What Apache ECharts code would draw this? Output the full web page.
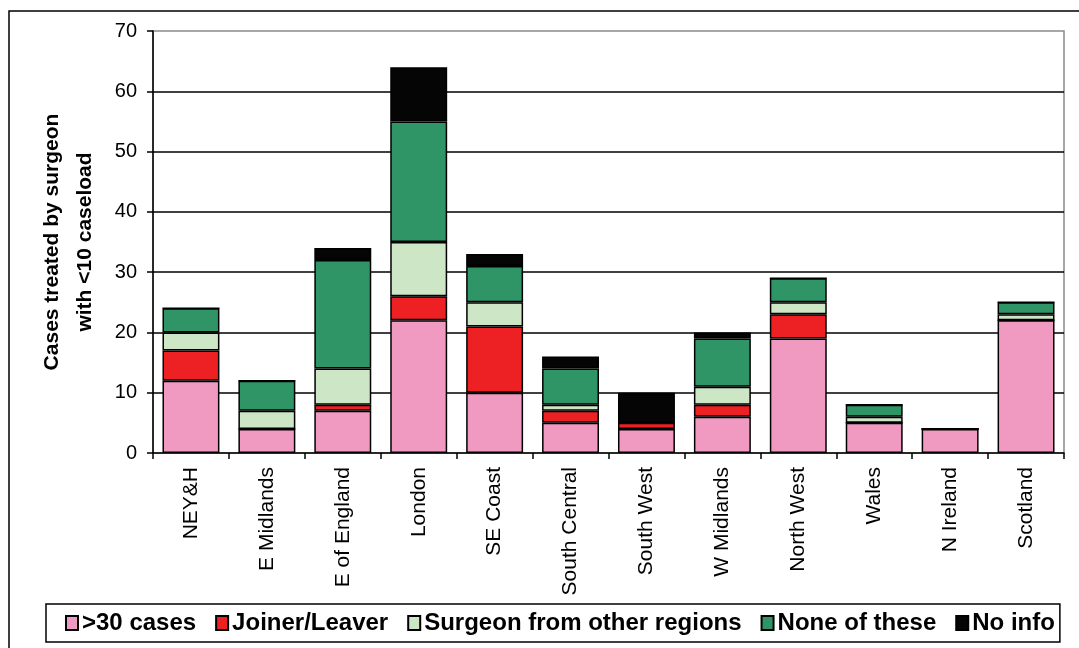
<!DOCTYPE html>
<html>
<head>
<meta charset="utf-8">
<script src="https://cdn.jsdelivr.net/npm/echarts@6/dist/echarts.min.js"></script>
<style>
  html, body { margin: 0; padding: 0; background: #fff; }
  #chart { width: 1079px; height: 648px; }
</style>
</head>
<body>
<div id="chart"></div>
<script>
// Regions (x axis)
const regions = ['NEY&H', 'E Midlands', 'E of England', 'London', 'SE Coast', 'South Central',
  'South West', 'W Midlands', 'North West', 'Wales', 'N Ireland', 'Scotland'];

// Cases per category, stacked bottom to top
const over30Cases    = [12, 4, 7, 22, 10, 5, 4, 6, 19, 5, 4, 22];
const joinerLeaver   = [5, 0, 1, 4, 11, 2, 1, 2, 4, 0, 0, 0];
const otherRegions   = [3, 3, 6, 9, 4, 1, 0, 3, 2, 1, 0, 1];
const noneOfThese    = [4, 5, 18, 20, 6, 6, 0, 8, 4, 2, 0, 2];
const noInfo         = [0, 0, 2, 9, 2, 2, 5, 1, 0, 0, 0, 0];

const yTicks = { min: 0, max: 70, interval: 10 };

const seriesDefs = [
  { name: '>30 cases', data: over30Cases, color: '#f09ac1' },
  { name: 'Joiner/Leaver', data: joinerLeaver, color: '#ed2124' },
  { name: 'Surgeon from other regions', data: otherRegions, color: '#cde6c6' },
  { name: 'None of these', data: noneOfThese, color: '#2f9566' },
  { name: 'No info', data: noInfo, color: '#050505' }
];

const chart = echarts.init(document.getElementById('chart'), null, { renderer: 'canvas' });

const font = 'Arial, "Liberation Sans", Helvetica, sans-serif';

chart.setOption({
  animation: false,
  backgroundColor: '#ffffff',
  textStyle: { fontFamily: font, color: '#000' },
  graphic: [
    {
      type: 'rect',
      shape: { x: 9, y: 11, width: 1100, height: 700 },
      style: { fill: 'none', stroke: '#000', lineWidth: 1.5 },
      z: -1
    }
  ],
  grid: {
    left: 153, right: 15, top: 31, bottom: 195,
    containLabel: false,
    outerBoundsMode: 'none',
    show: true, borderColor: '#8a8a8a', borderWidth: 1.5, backgroundColor: 'transparent'
  },
  legend: {
    left: 46,
    top: 604,
    itemWidth: 12,
    itemHeight: 14,
    itemGap: 19,
    padding: [7, 5, 7, 19],
    borderColor: '#000',
    borderWidth: 1.5,
    icon: 'rect',
    textStyle: { fontFamily: font, fontWeight: 'bold', fontSize: 24, color: '#000', padding: [0, 0, 0, -1] },
    data: seriesDefs.map(s => s.name)
  },
  xAxis: {
    type: 'category',
    data: regions,
    axisLine: { lineStyle: { color: '#000', width: 1.5 } },
    axisTick: { show: true, length: 6, lineStyle: { color: '#000', width: 1.5 } },
    axisLabel: { rotate: 90, fontSize: 21, fontFamily: font, color: '#000', margin: 14, interval: 0 }
  },
  yAxis: {
    type: 'value',
    min: yTicks.min,
    max: yTicks.max,
    interval: yTicks.interval,
    name: 'Cases treated by surgeon\nwith <10 caseload',
    nameLocation: 'middle',
    nameGap: 51,
    nameMoveOverlap: false,
    nameTextStyle: { fontFamily: font, fontWeight: 'bold', fontSize: 21, color: '#000', lineHeight: 33 },
    axisLine: { show: true, lineStyle: { color: '#000', width: 1.5 } },
    axisTick: { show: true, length: 6, lineStyle: { color: '#000', width: 1.5 } },
    axisLabel: { fontSize: 20, fontFamily: font, color: '#000', margin: 16 },
    splitLine: { show: true, showMinLine: false, showMaxLine: false, lineStyle: { color: '#000', width: 1.5 } }
  },
  series: seriesDefs.map(s => ({
    name: s.name,
    type: 'bar',
    stack: 'total',
    barWidth: '75%',
    data: s.data,
    itemStyle: { color: s.color, borderColor: '#000', borderWidth: 1.5 }
  }))
});
</script>
</body>
</html>
